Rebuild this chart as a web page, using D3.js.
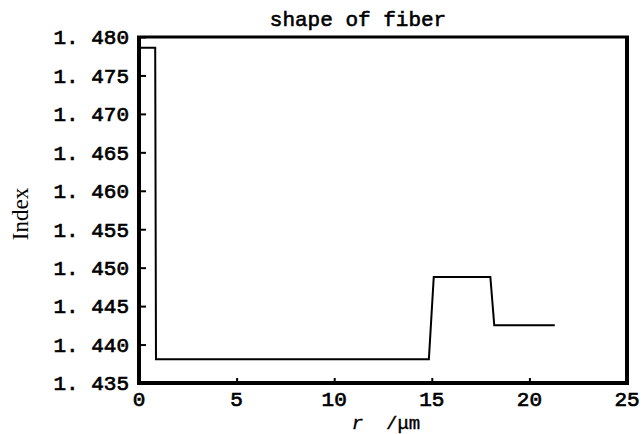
<!DOCTYPE html>
<html>
<head>
<meta charset="utf-8">
<script src="https://cdn.jsdelivr.net/npm/d3@7"></script>
<style>
  body { margin: 0; background: #fff; }
  svg { display: block; }
</style>
</head>
<body>
<svg id="chart"></svg>
<script>
// Fiber refractive index profile
const rValues = [0, 0.83, 0.87, 14.85, 15.1, 18.0, 18.2, 21.3];
const indexValues = [1.4786, 1.4786, 1.4381, 1.4381, 1.4488, 1.4488, 1.4425, 1.4425];
const xTicks = [0, 5, 10, 15, 20, 25];
const yTicks = [1.435, 1.440, 1.445, 1.450, 1.455, 1.460, 1.465, 1.470, 1.475, 1.480];

const width = 644, height = 434;
const margin = { top: 37, right: 17, bottom: 51, left: 139 };

const svg = d3.select("#chart")
    .attr("width", width)
    .attr("height", height);

const x = d3.scaleLinear().domain([0, 25]).range([margin.left, width - margin.right]);
const y = d3.scaleLinear().domain([1.435, 1.480]).range([height - margin.bottom, margin.top]);

const monoFont = "'Liberation Mono', 'Courier New', monospace";

// axes with inward ticks
const yAxis = svg.append("g")
    .attr("transform", "translate(" + margin.left + ",0)")
    .call(d3.axisRight(y).tickValues(yTicks).tickSize(7).tickFormat(function() { return ""; }));

const xAxis = svg.append("g")
    .attr("transform", "translate(0," + (height - margin.bottom) + ")")
    .call(d3.axisTop(x).tickValues(xTicks).tickSize(5).tickFormat(function() { return ""; }));

[xAxis, yAxis].forEach(function(g) {
    g.select(".domain").remove();
    g.selectAll(".tick line").attr("stroke", "#000").attr("stroke-width", 2);
});

// tick labels
svg.append("g").selectAll("text")
    .data(yTicks)
    .enter()
    .append("text")
    .attr("x", margin.left - 10)
    .attr("y", function(d) { return y(d); })
    .attr("dy", "0.35em")
    .attr("text-anchor", "end")
    .attr("font-family", monoFont)
    .attr("font-size", 21)
    .attr("stroke", "#000")
    .attr("stroke-width", 0.7)
    .text(function(d) { return d3.format(".3f")(d).replace(".", ". "); });

svg.append("g").selectAll("text")
    .data(xTicks)
    .enter()
    .append("text")
    .attr("x", function(d) { return x(d); })
    .attr("y", height - margin.bottom + 23)
    .attr("text-anchor", "middle")
    .attr("font-family", monoFont)
    .attr("font-size", 21)
    .attr("stroke", "#000")
    .attr("stroke-width", 0.7)
    .text(function(d) { return d; });

// frame
const x0 = x(0), x1 = x(25), y0 = y(1.435), y1 = y(1.480);
svg.append("line").attr("x1", x0).attr("x2", x0).attr("y1", y1 - 1).attr("y2", y0 + 2)
    .attr("stroke", "#000").attr("stroke-width", 4);
svg.append("line").attr("x1", x0 - 2).attr("x2", x1 + 2).attr("y1", y0).attr("y2", y0)
    .attr("stroke", "#000").attr("stroke-width", 4);
svg.append("line").attr("x1", x0 - 2).attr("x2", x1 + 2).attr("y1", y1).attr("y2", y1)
    .attr("stroke", "#000").attr("stroke-width", 3);
svg.append("line").attr("x1", x1).attr("x2", x1).attr("y1", y1 - 1).attr("y2", y0 + 2)
    .attr("stroke", "#000").attr("stroke-width", 4);

// profile line
const line = d3.line()
    .x(function(d, i) { return x(rValues[i]); })
    .y(function(d) { return y(d); });

svg.append("path")
    .datum(indexValues)
    .attr("fill", "none")
    .attr("stroke", "#000")
    .attr("stroke-width", 2)
    .attr("d", line);

// title
svg.append("text")
    .attr("x", 358)
    .attr("y", 26)
    .attr("text-anchor", "middle")
    .attr("font-family", monoFont)
    .attr("font-size", 21)
    .attr("stroke", "#000")
    .attr("stroke-width", 0.6)
    .text("shape of fiber");

// axis labels
svg.append("text")
    .attr("x", 386)
    .attr("y", 429)
    .attr("text-anchor", "middle")
    .attr("font-family", monoFont)
    .attr("font-size", 19)
    .attr("stroke", "#000")
    .attr("stroke-width", 0.4)
    .attr("xml:space", "preserve")
    .html("<tspan font-style='italic'>r</tspan>  /μm");

svg.append("text")
    .attr("transform", "translate(28,214) rotate(-90)")
    .attr("text-anchor", "middle")
    .attr("font-family", "'Liberation Serif', serif")
    .attr("font-size", 23)
    .text("Index");
</script>
</body>
</html>
